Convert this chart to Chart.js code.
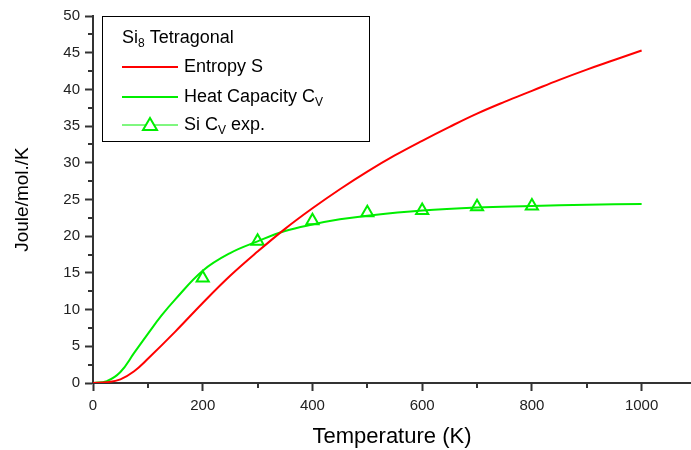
<!DOCTYPE html>
<html>
<head>
<meta charset="utf-8">
<script src="https://cdn.jsdelivr.net/npm/chart.js@4.4.1/dist/chart.umd.min.js"></script>
<style>
  html, body { margin: 0; padding: 0; background: #fff; }
  #wrap { width: 691px; height: 450px; }
</style>
</head>
<body>
<div id="wrap"><canvas id="thermoChart" width="691" height="450"></canvas></div>
<script>
// Si8 tetragonal - entropy and heat capacity vs temperature

// Entropy S (red curve)
const tempS = [0, 25, 50, 75, 100, 150, 200, 250, 300, 350, 400, 450, 500, 550, 600, 650, 700, 750, 800, 850, 900, 950, 1000];
const entropyS = [0, 0.1, 0.5, 1.6, 3.3, 7.0, 10.9, 14.6, 17.9, 21.0, 23.8, 26.4, 28.8, 31.0, 33.0, 34.9, 36.7, 38.3, 39.8, 41.3, 42.7, 44.0, 45.3];

// Heat capacity Cv (green curve)
const tempCv = [0, 25, 50, 75, 100, 125, 150, 200, 250, 300, 350, 400, 450, 500, 600, 700, 800, 900, 1000];
const heatCv = [0, 0.25, 1.5, 4.1, 6.7, 9.2, 11.4, 15.3, 17.7, 19.3, 20.7, 21.6, 22.3, 22.8, 23.5, 23.9, 24.1, 24.3, 24.4];

// Si Cv experimental points
const expT = [200, 300, 400, 500, 600, 700, 800];
const expCv = [14.3, 19.3, 22.1, 23.2, 23.5, 24.0, 24.1];

// Axis ticks (major labelled, minor unlabelled)
const xMajorTicks = [0, 200, 400, 600, 800, 1000];
const xMinorTicks = [100, 300, 500, 700, 900];
const yMajorTicks = [0, 5, 10, 15, 20, 25, 30, 35, 40, 45, 50];
const yMinorTicks = [2.5, 7.5, 12.5, 17.5, 22.5, 27.5, 32.5, 37.5, 42.5, 47.5];

const RED = '#ff0000';
const GREEN = '#00ee00';
const AXIS = '#333333';
const FONT = "'Liberation Sans', Arial, sans-serif";

function toPoints(xs, ys) {
    return xs.map((x, i) => ({ x: x, y: ys[i] }));
}

// Short minor ticks, drawn through the scales
const minorTicks = {
    id: 'minorTicks',
    afterDraw(chart) {
        const ctx = chart.ctx;
        const xs = chart.scales.x, ys = chart.scales.y;
        ctx.save();
        ctx.strokeStyle = AXIS;
        ctx.lineWidth = 2;
        ctx.beginPath();
        xMinorTicks.forEach(v => {
            const px = Math.round(xs.getPixelForValue(v));
            ctx.moveTo(px, xs.top);
            ctx.lineTo(px, xs.top + 5);
        });
        yMinorTicks.forEach(v => {
            const py = Math.round(ys.getPixelForValue(v));
            ctx.moveTo(ys.right, py);
            ctx.lineTo(ys.right - 5, py);
        });
        ctx.stroke();
        ctx.restore();
    }
};

// Boxed legend with subscripts
const boxLegend = {
    id: 'boxLegend',
    afterDraw(chart) {
        const ctx = chart.ctx;
        const left = chart.chartArea.left + 9;
        const top = chart.chartArea.top;
        const w = 267, h = 125;
        ctx.save();
        ctx.fillStyle = '#fff';
        ctx.fillRect(left, top, w, h);
        ctx.strokeStyle = '#000';
        ctx.lineWidth = 1;
        ctx.strokeRect(left + 0.5, top + 0.5, w, h);

        const tx = left + 20;
        const lineEnd = left + 76;
        const labelX = left + 82;
        ctx.textBaseline = 'middle';
        ctx.fillStyle = '#000';

        function textWithSub(x, y, parts) {
            parts.forEach(p => {
                ctx.font = (p.sub ? '12px ' : '18px ') + FONT;
                ctx.fillText(p.t, x, y + (p.sub ? 6 : 0));
                x += ctx.measureText(p.t).width;
            });
        }

        textWithSub(tx, top + 22, [{ t: 'Si' }, { t: '8', sub: true }, { t: ' Tetragonal' }]);

        // Entropy S
        ctx.strokeStyle = RED;
        ctx.lineWidth = 2;
        ctx.beginPath();
        ctx.moveTo(tx, top + 51); ctx.lineTo(lineEnd, top + 51);
        ctx.stroke();
        textWithSub(labelX, top + 51, [{ t: 'Entropy S' }]);

        // Heat Capacity Cv
        ctx.strokeStyle = GREEN;
        ctx.beginPath();
        ctx.moveTo(tx, top + 81); ctx.lineTo(lineEnd, top + 81);
        ctx.stroke();
        textWithSub(labelX, top + 81, [{ t: 'Heat Capacity C' }, { t: 'V', sub: true }]);

        // Si Cv exp.
        const ly = top + 109;
        ctx.lineWidth = 1;
        ctx.beginPath();
        ctx.moveTo(tx, ly); ctx.lineTo(lineEnd, ly);
        ctx.stroke();
        const cx = (tx + lineEnd) / 2;
        ctx.fillStyle = '#fff';
        ctx.lineWidth = 2;
        ctx.beginPath();
        ctx.moveTo(cx, ly - 7);
        ctx.lineTo(cx + 7, ly + 5);
        ctx.lineTo(cx - 7, ly + 5);
        ctx.closePath();
        ctx.fill();
        ctx.stroke();
        ctx.fillStyle = '#000';
        textWithSub(labelX, ly, [{ t: 'Si C' }, { t: 'V', sub: true }, { t: ' exp.' }]);
        ctx.restore();
    }
};

document.addEventListener('DOMContentLoaded', function() {
    const canvas = document.getElementById('thermoChart');

    new Chart(canvas.getContext('2d'), {
        type: 'scatter',
        data: {
            datasets: [{
                label: 'Entropy S',
                data: toPoints(tempS, entropyS),
                showLine: true,
                borderColor: RED,
                borderWidth: 2,
                pointRadius: 0,
                tension: 0.4
            }, {
                label: 'Heat Capacity Cv',
                data: toPoints(tempCv, heatCv),
                showLine: true,
                borderColor: GREEN,
                borderWidth: 2,
                pointRadius: 0,
                tension: 0.4
            }, {
                label: 'Si Cv exp.',
                data: toPoints(expT, expCv),
                showLine: false,
                pointStyle: 'triangle',
                pointRadius: 7,
                pointBorderWidth: 2,
                borderColor: GREEN,
                backgroundColor: 'rgba(255,255,255,0)'
            }]
        },
        options: {
            responsive: false,
            animation: false,
            layout: {
                autoPadding: false,
                padding: { top: 16, right: 0, left: 0, bottom: 0 }
            },
            plugins: {
                legend: { display: false },
                tooltip: { enabled: false }
            },
            scales: {
                x: {
                    type: 'linear',
                    min: 0,
                    max: 1090,
                    afterBuildTicks(scale) {
                        scale.ticks = xMajorTicks.map(v => ({ value: v }));
                    },
                    afterFit(scale) {
                        scale.height = 67;
                        scale.paddingRight = 0;
                    },
                    grid: {
                        drawOnChartArea: false,
                        drawTicks: true,
                        tickLength: 8,
                        tickWidth: 2,
                        tickColor: AXIS
                    },
                    border: { color: AXIS, width: 2 },
                    ticks: {
                        padding: 6,
                        maxRotation: 0,
                        autoSkip: false,
                        color: '#222',
                        font: { family: FONT, size: 15 },
                        callback: v => String(v)
                    },
                    title: {
                        display: true,
                        text: 'Temperature (K)',
                        color: '#000',
                        font: { family: FONT, size: 22 },
                        padding: { top: 0, bottom: 0 }
                    }
                },
                y: {
                    type: 'linear',
                    min: 0,
                    max: 50,
                    afterBuildTicks(scale) {
                        scale.ticks = yMajorTicks.map(v => ({ value: v }));
                    },
                    afterFit(scale) { scale.width = 93; },
                    grid: {
                        drawOnChartArea: false,
                        drawTicks: true,
                        tickLength: 8,
                        tickWidth: 2,
                        tickColor: AXIS
                    },
                    border: { color: AXIS, width: 2 },
                    ticks: {
                        padding: 5,
                        autoSkip: false,
                        color: '#222',
                        font: { family: FONT, size: 15 }
                    },
                    title: {
                        display: true,
                        text: 'Joule/mol./K',
                        color: '#000',
                        font: { family: FONT, size: 19 },
                        padding: { top: 11, bottom: 0 }
                    }
                }
            }
        },
        plugins: [minorTicks, boxLegend]
    });
});
</script>
</body>
</html>
